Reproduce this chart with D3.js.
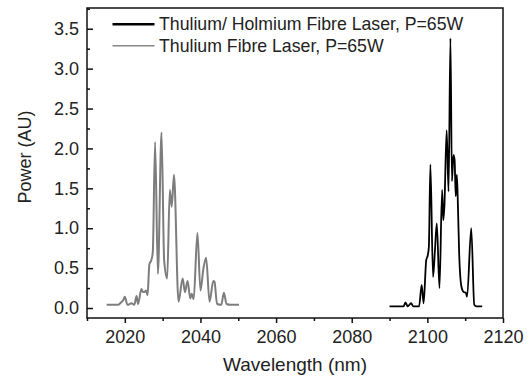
<!DOCTYPE html>
<html><head><meta charset="utf-8">
<script src="https://cdn.jsdelivr.net/npm/d3@7/dist/d3.min.js"></script>
<style>body{margin:0;background:#fff}svg{display:block}text{font-family:Arial,"Liberation Sans",sans-serif;fill:#222}</style>
</head><body><svg id="c" width="531" height="379"></svg>
<script>
// Thulium fibre laser spectrum (gray)
const tmWavelength = [2015.2,2018.2,2019.0,2019.6,2020.0,2020.7,2021.8,2022.5,2023.1,2023.5,2024.4,2024.8,2025.2,2025.6,2026.0,2026.5,2027.0,2027.4,2028.0,2028.75,2029.7,2030.4,2031.2,2031.9,2032.4,2033.0,2034.2,2035.3,2035.9,2036.6,2037.3,2037.7,2038.2,2039.2,2040.0,2040.8,2041.5,2042.4,2043.4,2043.7,2044.4,2045.5,2046.2,2046.9,2048.0,2050.2];
const tmPower = [0.04,0.04,0.07,0.10,0.14,0.04,0.06,0.04,0.15,0.05,0.24,0.20,0.20,0.22,0.16,0.55,0.60,0.70,2.08,0.43,2.20,0.60,0.37,1.48,1.27,1.67,0.08,0.37,0.20,0.34,0.12,0.18,0.11,0.94,0.22,0.50,0.63,0.08,0.34,0.33,0.05,0.04,0.19,0.05,0.04,0.04];
// Thulium/Holmium fibre laser spectrum (black)
const hoWavelength = [2090.0,2093.7,2094.2,2094.8,2095.7,2096.3,2097.8,2098.5,2099.0,2099.7,2100.1,2100.4,2100.8,2101.5,2102.0,2102.5,2103.2,2103.9,2104.2,2104.5,2105.1,2105.6,2106.1,2106.5,2106.9,2107.2,2107.5,2107.8,2108.1,2108.4,2109.0,2109.6,2110.2,2110.5,2111.6,2112.4,2113.0,2114.5];
const hoPower = [0.02,0.02,0.07,0.02,0.06,0.02,0.02,0.29,0.06,0.60,0.66,0.77,1.80,0.39,0.72,1.06,0.25,1.48,1.10,1.27,2.23,1.46,3.38,1.59,1.92,1.86,1.40,1.67,1.25,0.70,0.27,0.20,0.19,0.14,1.00,0.04,0.02,0.02];
const xTicks = [2020,2040,2060,2080,2100,2120];
const yTicks = [0,0.5,1.0,1.5,2.0,2.5,3.0,3.5];
const legendLabels = ["Thulium/ Holmium Fibre Laser, P=65W","Thulium Fibre Laser, P=65W"];

const svg = d3.select("#c");
const L=87, R=503, T=8, B=318;
const x = d3.scaleLinear().domain([2010,2120]).range([L,R]);
const y = d3.scaleLinear().domain([-0.125,3.76]).range([B,T]);
const FONT = "Arial, 'Liberation Sans', sans-serif";

// frame
svg.append("rect").attr("x",L).attr("y",T).attr("width",R-L).attr("height",B-T)
  .attr("fill","none").attr("stroke","#111").attr("stroke-width",1.5);

// x axis (ticks outward)
const xAxis = d3.axisBottom(x).tickValues(xTicks).tickFormat(d3.format("d")).tickSize(5).tickPadding(7);
const gx = svg.append("g").attr("transform",`translate(0,${B})`).call(xAxis);
gx.select(".domain").remove();
gx.selectAll("line").attr("stroke","#111").attr("stroke-width",1.5);
gx.selectAll("text").attr("font-size",18).attr("fill","#222").style("font-family",FONT);
const gxm = svg.append("g").attr("transform",`translate(0,${B})`)
  .call(d3.axisBottom(x).tickValues(d3.range(2010,2121,10).filter(v=>!xTicks.includes(v))).tickSize(3).tickFormat(""));
gxm.select(".domain").remove();
gxm.selectAll("line").attr("stroke","#111").attr("stroke-width",1.5);

// y axis (ticks inward)
const yAxis = d3.axisLeft(y).tickValues(yTicks).tickFormat(d3.format(".1f")).tickSize(-6).tickPadding(8);
const gy = svg.append("g").attr("transform",`translate(${L},0)`).call(yAxis);
gy.select(".domain").remove();
gy.selectAll("line").attr("stroke","#111").attr("stroke-width",1.5);
gy.selectAll("text").attr("font-size",18).attr("fill","#222").style("font-family",FONT);
const gym = svg.append("g").attr("transform",`translate(${L},0)`)
  .call(d3.axisLeft(y).tickValues(d3.range(0.25,3.76,0.5)).tickSize(-3).tickFormat(""));
gym.select(".domain").remove();
gym.selectAll("line").attr("stroke","#111").attr("stroke-width",1.5);

// axis titles
svg.append("text").attr("x",(L+R)/2).attr("y",371).attr("text-anchor","middle").attr("font-size",19).text("Wavelength (nm)");
svg.append("text").attr("transform",`translate(31,${(T+B)/2-6}) rotate(-90)`).attr("text-anchor","middle").attr("font-size",18).text("Power (AU)");

// lines
const line = d3.line().curve(d3.curveMonotoneX);
svg.append("path").attr("d",line(tmWavelength.map((w,i)=>[x(w),y(tmPower[i])])))
  .attr("fill","none").attr("stroke","#7d7d7d").attr("stroke-width",2).attr("stroke-linejoin","round");
svg.append("path").attr("d",line(hoWavelength.map((w,i)=>[x(w),y(hoPower[i])])))
  .attr("fill","none").attr("stroke","#000").attr("stroke-width",1.8).attr("stroke-linejoin","round");

// legend
const lg = svg.append("g");
const lc = [{c:"#000",w:2.5},{c:"#888",w:1.5}];
legendLabels.forEach((t,i)=>{
  const yy = 24.3 + i*21.4;
  lg.append("line").attr("x1",112.5).attr("x2",154.5).attr("y1",yy).attr("y2",yy).attr("stroke",lc[i].c).attr("stroke-width",lc[i].w);
  lg.append("text").attr("x",159).attr("y",yy+6).attr("font-size",17.7).text(t);
});
</script></body></html>
